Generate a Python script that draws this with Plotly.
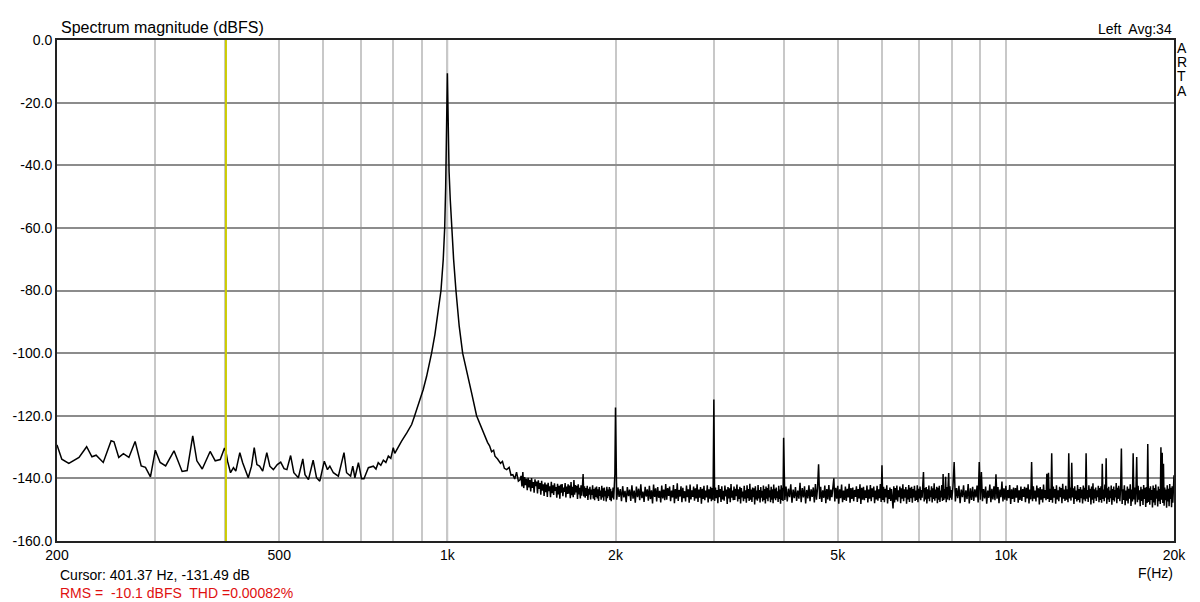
import plotly.graph_objects as go

# ---- data (Hz, dBFS) ----
low_hz = [200, 204, 210, 219, 226, 231, 235, 242, 250, 253,
          258, 263, 269, 276, 283, 288, 294, 300, 306, 313,
          324, 335, 342, 350, 356, 364, 376, 384, 392, 399,
          401.4, 404, 409, 414, 418, 425, 430, 434, 440, 446,
          451, 456, 461, 467, 475, 481, 488, 496, 503, 510,
          516, 524, 531, 541, 551, 556, 564, 575, 583, 591,
          602, 610, 616, 625, 638, 653, 660, 671, 677, 683,
          693, 702, 709, 722, 737, 745, 752, 760, 768, 776,
          784, 792, 800, 805, 809, 818, 828, 846, 863]
low_db = [-129.3, -133.9, -135.2, -133.3, -129.9, -133.1, -132.6, -134.9, -128.0, -128.3,
          -133.3, -132.1, -133.3, -128.2, -136.0, -136.5, -139.5, -131.0, -134.9, -136.0,
          -131.2, -137.8, -137.5, -126.4, -134.4, -137.0, -131.4, -134.4, -134.0, -130.3,
          -131.5, -134.5, -138.2, -136.6, -137.7, -131.8, -135.0, -137.2, -139.8, -136.1,
          -130.2, -135.6, -136.1, -137.7, -131.8, -136.1, -137.2, -135.6, -134.8, -136.9,
          -137.2, -132.7, -138.2, -139.8, -133.8, -138.8, -140.4, -134.2, -139.8, -140.9,
          -134.5, -137.2, -136.1, -138.2, -139.3, -131.8, -138.2, -139.3, -136.1, -139.8,
          -135.0, -140.1, -140.1, -136.6, -136.1, -137.0, -135.0, -135.8, -134.2, -134.9,
          -132.9, -133.6, -130.2, -132.0, -131.3, -129.8, -128.1, -125.5, -122.8]

# fundamental at 1 kHz and its skirt
peak_hz = [872, 883, 893, 905, 918, 928, 937, 950, 963, 974,
           983, 989, 993, 996, 998, 1000, 1002, 1004, 1007, 1012,
           1018, 1026, 1036, 1050, 1065, 1085, 1105, 1128, 1148, 1168,
           1180, 1190, 1200, 1210, 1217, 1230, 1245, 1255, 1265, 1277,
           1290, 1300, 1310, 1320, 1330, 1340]
peak_db = [-120.5, -117.7, -115.4, -111.7, -107.4, -103.7, -100.0, -94.0, -87.2, -80.0,
           -70.2, -60.0, -47.0, -32.0, -20.0, -10.6, -20.0, -32.0, -42.0, -51.0,
           -60.0, -70.0, -80.0, -91.4, -100.0, -107.0, -112.7, -120.0, -123.5, -126.5,
           -128.5, -129.6, -131.5, -131.0, -132.9, -133.8, -135.2, -134.6, -136.8, -137.2,
           -136.5, -139.0, -138.8, -140.2, -138.0, -140.9]

# noise floor with harmonics, 1.35 kHz .. 2 kHz
noise_a_hz = [1350, 1355, 1360, 1365, 1370, 1375, 1380, 1385, 1390, 1395,
              1400, 1405, 1410, 1415, 1420, 1425, 1430, 1435, 1440, 1445,
              1450, 1455, 1460, 1465, 1470, 1475, 1480, 1485, 1490, 1495,
              1500, 1505, 1510, 1515, 1520, 1525, 1530, 1535, 1540, 1545,
              1550, 1555, 1560, 1565, 1570, 1575, 1580, 1585, 1590, 1595,
              1600, 1605, 1610, 1615, 1620, 1625, 1630, 1635, 1640, 1645,
              1650, 1655, 1660, 1665, 1670, 1675, 1680, 1685, 1690, 1695,
              1700, 1705, 1710, 1715, 1720, 1725, 1730, 1735, 1740, 1745,
              1750, 1755, 1760, 1765, 1770, 1775, 1780, 1785, 1790, 1795,
              1800, 1805, 1810, 1815, 1820, 1825, 1830, 1835, 1840, 1845,
              1850, 1855, 1860, 1865, 1870, 1875, 1880, 1885, 1890, 1895,
              1900, 1905, 1910, 1915, 1920, 1925, 1930, 1935, 1940, 1945,
              1950, 1955, 1960, 1965, 1970, 1975, 1980, 1985, 1990, 1995]
noise_a_db = [-140.4, -139.2, -142.6, -138.0, -143.1, -139.6, -142.2, -140.1, -143.8, -139.8,
              -142.9, -140.5, -144.2, -139.9, -143.0, -141.2, -144.6, -140.3, -142.5, -141.0,
              -144.8, -140.6, -143.4, -141.5, -145.2, -140.8, -143.9, -141.9, -145.6, -141.3,
              -144.4, -142.0, -145.9, -141.4, -144.1, -142.5, -146.0, -141.1, -144.7, -142.2,
              -145.3, -141.6, -144.0, -142.8, -146.2, -141.7, -145.1, -142.4, -146.5, -142.0,
              -144.6, -141.8, -145.7, -142.9, -144.3, -141.5, -146.1, -142.6, -145.0, -141.9,
              -144.9, -142.3, -146.3, -141.2, -145.4, -142.7, -146.0, -140.5, -145.2, -142.1,
              -144.5, -142.4, -146.6, -141.9, -145.1, -143.0, -146.4, -142.2, -145.5, -142.8,
              -138.6, -145.8, -142.5, -146.2, -143.1, -145.6, -142.4, -146.9, -143.3, -145.2,
              -142.7, -146.7, -143.6, -145.3, -142.2, -146.5, -143.4, -147.0, -142.9, -145.9,
              -142.6, -146.4, -143.5, -147.2, -142.8, -145.6, -143.9, -146.8, -142.4, -146.1,
              -143.2, -147.1, -142.9, -145.8, -144.0, -147.4, -142.7, -146.3, -143.6, -145.7,
              -142.8, -146.9, -143.3, -147.3, -144.1, -146.2, -142.9, -146.7, -143.5, -138.5]

# 2 kHz .. 4 kHz
noise_b_hz = [2000, 2010, 2020, 2030, 2040, 2050, 2060, 2070, 2080, 2090,
              2100, 2110, 2120, 2130, 2140, 2150, 2160, 2170, 2180, 2190,
              2200, 2210, 2220, 2230, 2240, 2250, 2260, 2270, 2280, 2290,
              2300, 2310, 2320, 2330, 2340, 2350, 2360, 2370, 2380, 2390,
              2400, 2410, 2420, 2430, 2440, 2450, 2460, 2470, 2480, 2490,
              2500, 2510, 2520, 2530, 2540, 2550, 2560, 2570, 2580, 2590,
              2600, 2610, 2620, 2630, 2640, 2650, 2660, 2670, 2680, 2690,
              2700, 2710, 2720, 2730, 2740, 2750, 2760, 2770, 2780, 2790,
              2800, 2810, 2820, 2830, 2840, 2850, 2860, 2870, 2880, 2890,
              2900, 2910, 2920, 2930, 2940, 2950, 2960, 2970, 2980, 2990,
              3000, 3010, 3020, 3030, 3040, 3050, 3060, 3070, 3080, 3090,
              3100, 3110, 3120, 3130, 3140, 3150, 3160, 3170, 3180, 3190,
              3200, 3210, 3220, 3230, 3240, 3250, 3260, 3270, 3280, 3290,
              3300, 3310, 3320, 3330, 3340, 3350, 3360, 3370, 3380, 3390,
              3400, 3410, 3420, 3430, 3440, 3450, 3460, 3470, 3480, 3490,
              3500, 3510, 3520, 3530, 3540, 3550, 3560, 3570, 3580, 3590,
              3600, 3610, 3620, 3630, 3640, 3650, 3660, 3670, 3680, 3690,
              3700, 3710, 3720, 3730, 3740, 3750, 3760, 3770, 3780, 3790,
              3800, 3810, 3820, 3830, 3840, 3850, 3860, 3870, 3880, 3890,
              3900, 3910, 3920, 3930, 3940, 3950, 3960, 3970, 3980, 3990]
noise_b_db = [-117.4, -146.8, -142.9, -145.9, -143.4, -147.3, -142.5, -146.1, -144.0, -147.6,
              -142.8, -145.7, -143.6, -147.2, -142.2, -146.5, -143.9, -147.8, -142.6, -146.0,
              -143.3, -147.0, -141.9, -146.3, -144.2, -147.5, -142.7, -145.8, -143.5, -147.1,
              -142.4, -146.6, -143.8, -148.0, -142.0, -145.9, -143.2, -147.4, -142.8, -146.2,
              -144.0, -147.7, -142.3, -146.4, -143.6, -147.0, -141.8, -146.8, -143.1, -145.6,
              -142.6, -147.3, -143.9, -146.1, -142.1, -147.9, -143.4, -146.5, -141.6, -147.2,
              -143.7, -145.8, -142.5, -147.6, -143.0, -146.3, -144.1, -147.4, -142.3, -146.0,
              -143.5, -147.8, -142.0, -146.7, -143.8, -145.9, -142.6, -147.1, -143.2, -146.4,
              -141.9, -147.5, -143.6, -146.2, -142.8, -148.1, -143.3, -146.6, -142.4, -147.0,
              -143.9, -146.1, -142.2, -147.7, -143.5, -146.5, -142.7, -147.3, -143.1, -146.8,
              -114.8, -147.2, -142.9, -146.3, -143.7, -147.9, -142.1, -146.0, -143.4, -147.5,
              -142.5, -146.7, -144.0, -147.1, -142.3, -145.8, -143.6, -148.2, -142.8, -146.4,
              -143.2, -147.6, -141.8, -146.2, -143.9, -147.0, -142.6, -146.9, -143.3, -145.7,
              -142.0, -147.4, -143.5, -146.6, -142.7, -148.0, -143.1, -146.1, -144.2, -147.3,
              -142.4, -146.5, -143.8, -147.8, -142.2, -146.3, -143.4, -147.2, -141.7, -146.8,
              -143.6, -147.5, -142.9, -146.0, -143.2, -148.3, -142.5, -146.7, -143.9, -147.1,
              -142.1, -146.4, -143.7, -147.7, -142.8, -146.2, -144.0, -147.4, -142.3, -146.9,
              -143.4, -148.0, -142.6, -146.5, -143.1, -147.3, -141.9, -146.1, -143.8, -147.6,
              -142.7, -146.8, -143.5, -147.9, -142.0, -146.4, -143.3, -147.0, -142.9, -146.3,
              -144.1, -147.5, -142.4, -146.6, -143.6, -148.1, -142.2, -146.9, -143.0, -147.2]

# 4 kHz .. 8 kHz
noise_c_hz = [4000, 4020, 4040, 4060, 4080, 4100, 4120, 4140, 4160, 4180,
              4200, 4220, 4240, 4260, 4280, 4300, 4320, 4340, 4360, 4380,
              4400, 4420, 4440, 4460, 4480, 4500, 4520, 4540, 4560, 4580,
              4600, 4620, 4640, 4660, 4680, 4700, 4720, 4740, 4760, 4780,
              4800, 4820, 4840, 4860, 4880, 4900, 4920, 4940, 4960, 4980,
              5000, 5020, 5040, 5060, 5080, 5100, 5120, 5140, 5160, 5180,
              5200, 5220, 5240, 5260, 5280, 5300, 5320, 5340, 5360, 5380,
              5400, 5420, 5440, 5460, 5480, 5500, 5520, 5540, 5560, 5580,
              5600, 5620, 5640, 5660, 5680, 5700, 5720, 5740, 5760, 5780,
              5800, 5820, 5840, 5860, 5880, 5900, 5920, 5940, 5960, 5980,
              6000, 6020, 6040, 6060, 6080, 6100, 6120, 6140, 6160, 6180,
              6200, 6220, 6240, 6260, 6280, 6300, 6320, 6340, 6360, 6380,
              6400, 6420, 6440, 6460, 6480, 6500, 6520, 6540, 6560, 6580,
              6600, 6620, 6640, 6660, 6680, 6700, 6720, 6740, 6760, 6780,
              6800, 6820, 6840, 6860, 6880, 6900, 6920, 6940, 6960, 6980,
              7000, 7020, 7040, 7060, 7080, 7100, 7120, 7140, 7160, 7180,
              7200, 7220, 7240, 7260, 7280, 7300, 7320, 7340, 7360, 7380,
              7400, 7420, 7440, 7460, 7480, 7500, 7520, 7540, 7560, 7580,
              7600, 7620, 7640, 7660, 7680, 7700, 7720, 7740, 7760, 7780,
              7800, 7820, 7840, 7860, 7880, 7900, 7920, 7940, 7960, 7980]
noise_c_db = [-127.0, -146.9, -142.6, -147.4, -143.3, -146.0, -141.9, -147.8, -143.6, -146.3,
              -142.8, -147.2, -143.9, -146.5, -141.4, -147.6, -143.1, -146.1, -142.5, -148.0,
              -143.7, -146.4, -142.2, -147.3, -143.5, -145.9, -142.9, -147.7, -141.8, -146.8,
              -143.2, -135.5, -146.6, -142.7, -147.5, -143.8, -146.2, -142.3, -147.9, -143.4,
              -146.7, -142.1, -147.1, -143.6, -146.0, -142.8, -140.0, -147.4, -143.0, -146.5,
              -142.4, -148.1, -143.5, -146.3, -142.0, -147.6, -143.9, -146.9, -142.6, -147.2,
              -143.3, -146.1, -141.7, -147.8, -143.1, -146.6, -142.9, -147.3, -143.7, -145.9,
              -142.5, -147.5, -143.4, -146.4, -141.9, -148.2, -143.0, -146.8, -142.7, -147.0,
              -143.8, -146.2, -142.3, -147.7, -143.6, -146.5, -142.1, -147.3, -143.2, -146.0,
              -142.6, -147.9, -143.9, -146.7, -142.4, -147.1, -143.5, -146.3, -141.8, -147.5,
              -135.8, -146.9, -142.7, -147.6, -143.3, -146.1, -142.2, -148.0, -143.7, -146.6,
              -142.9, -147.2, -143.4, -146.4, -149.6, -142.5, -147.7, -143.1, -146.8, -142.3,
              -147.4, -143.8, -146.0, -142.6, -147.9, -143.2, -146.5, -141.9, -147.3, -143.5,
              -146.2, -142.8, -148.1, -143.6, -146.7, -142.1, -147.5, -143.0, -146.3, -142.7,
              -147.8, -143.4, -146.1, -142.4, -147.2, -143.9, -146.9, -142.2, -147.6, -143.3,
              -146.4, -142.6, -147.0, -143.7, -146.2, -142.0, -138.0, -147.4, -143.1, -146.7,
              -142.8, -148.0, -143.5, -146.5, -142.3, -147.3, -143.8, -146.0, -142.5, -147.7,
              -143.2, -146.6, -141.6, -147.1, -143.6, -146.3, -142.7, -147.9, -143.0, -146.8,
              -142.4, -147.5, -143.9, -146.1, -142.1, -147.2, -138.6, -146.9, -143.4, -146.4,
              -139.5, -147.6, -142.8, -146.7, -143.3, -138.3, -147.0, -142.5, -146.2, -143.7]

# 8 kHz .. 16 kHz
noise_d_hz = [8000, 8040, 8080, 8120, 8160, 8200, 8240, 8280, 8320, 8360,
              8400, 8440, 8480, 8520, 8560, 8600, 8640, 8680, 8720, 8760,
              8800, 8840, 8880, 8920, 8960, 9000, 9040, 9080, 9120, 9160,
              9200, 9240, 9280, 9320, 9360, 9400, 9440, 9480, 9520, 9560,
              9600, 9640, 9680, 9720, 9760, 9800, 9840, 9880, 9920, 9960,
              10000, 10040, 10080, 10120, 10160, 10200, 10240, 10280, 10320, 10360,
              10400, 10440, 10480, 10520, 10560, 10600, 10640, 10680, 10720, 10760,
              10800, 10840, 10880, 10920, 10960, 11000, 11040, 11080, 11120, 11160,
              11200, 11240, 11280, 11320, 11360, 11400, 11440, 11480, 11520, 11560,
              11600, 11640, 11680, 11720, 11760, 11800, 11840, 11880, 11920, 11960,
              12000, 12040, 12080, 12120, 12160, 12200, 12240, 12280, 12320, 12360,
              12400, 12440, 12480, 12520, 12560, 12600, 12640, 12680, 12720, 12760,
              12800, 12840, 12880, 12920, 12960, 13000, 13040, 13080, 13120, 13160,
              13200, 13240, 13280, 13320, 13360, 13400, 13440, 13480, 13520, 13560,
              13600, 13640, 13680, 13720, 13760, 13800, 13840, 13880, 13920, 13960,
              14000, 14040, 14080, 14120, 14160, 14200, 14240, 14280, 14320, 14360,
              14400, 14440, 14480, 14520, 14560, 14600, 14640, 14680, 14720, 14760,
              14800, 14840, 14880, 14920, 14960, 15000, 15040, 15080, 15120, 15160,
              15200, 15240, 15280, 15320, 15360, 15400, 15440, 15480, 15520, 15560,
              15600, 15640, 15680, 15720, 15760, 15800, 15840, 15880, 15920, 15960]
noise_d_db = [-146.8, -142.6, -134.8, -147.4, -143.1, -146.3, -142.4, -147.9, -143.6, -146.0,
              -142.2, -147.5, -143.8, -146.6, -141.8, -148.0, -143.2, -146.9, -142.7, -147.2,
              -143.5, -146.1, -142.3, -147.7, -134.8, -146.8, -138.0, -147.3, -143.4, -146.4,
              -142.6, -148.1, -143.9, -146.2, -142.0, -147.6, -143.3, -146.7, -142.5, -147.0,
              -138.7, -146.5, -142.8, -147.9, -143.6, -146.0, -141.0, -147.4, -143.2, -146.8,
              -142.4, -147.1, -143.7, -146.3, -142.1, -148.2, -143.5, -146.6, -142.9, -147.5,
              -143.1, -146.2, -142.2, -147.8, -143.8, -146.9, -142.6, -147.2, -143.4, -145.9,
              -142.7, -147.6, -143.0, -146.4, -141.9, -148.0, -143.6, -146.7, -134.8, -147.3,
              -142.5, -146.5, -143.9, -147.4, -142.3, -146.1, -143.2, -148.3, -142.8, -146.8,
              -143.5, -147.7, -142.0, -146.3, -143.7, -147.0, -138.5, -146.6, -138.2, -147.5,
              -143.3, -146.9, -132.0, -147.8, -142.6, -146.2, -143.4, -148.1, -142.2, -146.7,
              -143.8, -147.3, -142.7, -146.0, -143.1, -147.9, -141.7, -146.5, -143.6, -147.2,
              -142.4, -146.8, -143.5, -147.6, -132.0, -146.4, -142.9, -147.1, -135.0, -146.1,
              -143.2, -148.2, -142.5, -146.6, -143.9, -147.4, -142.1, -146.9, -143.4, -147.7,
              -142.8, -146.3, -143.6, -148.0, -142.3, -146.7, -143.0, -147.3, -132.0, -146.5,
              -143.7, -147.5, -142.2, -146.1, -143.3, -148.3, -142.6, -146.8, -141.6, -147.9,
              -143.5, -146.4, -142.9, -147.2, -143.8, -146.0, -142.4, -147.6, -143.1, -146.9,
              -142.5, -147.8, -135.3, -146.6, -143.6, -147.3, -142.0, -146.2, -133.6, -148.1,
              -143.2, -146.7, -142.7, -147.5, -143.9, -146.3, -142.3, -148.4, -143.4, -146.9,
              -142.6, -147.4, -143.7, -146.1, -141.5, -147.9, -143.0, -146.6, -142.4, -147.2]

# 16 kHz .. 20 kHz
noise_e_hz = [16000, 16050, 16100, 16150, 16200, 16250, 16300, 16350, 16400, 16450,
              16500, 16550, 16600, 16650, 16700, 16750, 16800, 16850, 16900, 16950,
              17000, 17050, 17100, 17150, 17200, 17250, 17300, 17350, 17400, 17450,
              17500, 17550, 17600, 17650, 17700, 17750, 17800, 17850, 17900, 17950,
              18000, 18050, 18100, 18150, 18200, 18250, 18300, 18350, 18400, 18450,
              18500, 18550, 18600, 18650, 18700, 18750, 18800, 18850, 18900, 18950,
              19000, 19050, 19100, 19150, 19200, 19250, 19300, 19350, 19400, 19450,
              19500, 19550, 19600, 19650, 19700, 19750, 19800, 19850, 19900, 19950,
              20000]
noise_e_db = [-147.3, -142.8, -130.5, -148.2, -143.5, -146.9, -142.2, -148.6, -143.9, -147.1,
              -142.6, -148.0, -143.3, -146.5, -141.9, -148.8, -143.6, -147.4, -132.0, -146.7,
              -142.9, -148.3, -143.4, -133.2, -147.6, -142.4, -146.8, -143.8, -148.9, -142.7,
              -147.2, -143.5, -148.5, -142.1, -146.6, -143.0, -149.1, -142.8, -147.9, -129.0,
              -147.5, -143.2, -148.4, -142.5, -146.9, -143.7, -149.3, -142.3, -147.7, -143.1,
              -148.6, -142.0, -146.5, -143.9, -149.0, -142.6, -147.3, -143.4, -148.2, -130.1,
              -146.8, -131.8, -147.9, -135.3, -148.7, -142.9, -147.0, -143.6, -149.4, -142.2,
              -147.4, -143.3, -148.9, -141.8, -146.6, -143.0, -149.2, -142.5, -147.8, -143.6,
              -139.0]

x_tick_vals = [200, 500, 1000, 2000, 5000, 10000, 20000]
x_tick_text = ["200", "500", "1k", "2k", "5k", "10k", "20k"]
x_minor_vals = [300, 400, 600, 700, 800, 900,
                3000, 4000, 6000, 7000, 8000, 9000]
decade_lines = [1000, 10000]
y_tick_vals = [0, -20, -40, -60, -80, -100, -120, -140, -160]
y_tick_text = ["0.0", "-20.0", "-40.0", "-60.0", "-80.0", "-100.0", "-120.0", "-140.0", "-160.0"]

cursor_hz = 401.37
cursor_text = "Cursor: 401.37 Hz, -131.49 dB"
rms_text = "RMS =\u00a0 -10.1 dBFS\u00a0 THD =0.00082%"

freq = low_hz + peak_hz + noise_a_hz + noise_b_hz + noise_c_hz + noise_d_hz + noise_e_hz
mag = low_db + peak_db + noise_a_db + noise_b_db + noise_c_db + noise_d_db + noise_e_db

FONT = "Liberation Sans, Arial, sans-serif"
GRID_LIGHT = "#c8c8c8"
GRID_DARK = "#8c8c8c"

fig = go.Figure()
fig.add_trace(go.Scatter(x=freq, y=mag, mode="lines",
                         line=dict(color="black", width=1.5),
                         hoverinfo="skip"))

# darker lines at decades
for f in decade_lines:
    fig.add_shape(type="line", xref="x", yref="paper", x0=f, x1=f, y0=0, y1=1,
                  line=dict(color=GRID_DARK, width=1.5), layer="below")

# cursor
fig.add_shape(type="line", xref="x", yref="paper", x0=cursor_hz, x1=cursor_hz, y0=0, y1=1,
              line=dict(color="#cccc00", width=2), layer="above")

fig.update_layout(
    width=1200, height=602,
    margin=dict(l=57, r=26, t=40, b=61),
    plot_bgcolor="white", paper_bgcolor="white",
    showlegend=False,
    font=dict(family=FONT, size=14, color="black"),
    xaxis=dict(type="log", range=[2.30103, 4.30103],
               tickvals=x_tick_vals, ticktext=x_tick_text,
               showgrid=True, gridcolor=GRID_LIGHT, gridwidth=1.5,
               minor=dict(tickvals=x_minor_vals, showgrid=True,
                          gridcolor=GRID_LIGHT, gridwidth=1.5, ticks=""),
               showline=True, mirror=True, linecolor="#222222", linewidth=2,
               ticks="", zeroline=False, tickfont=dict(size=14)),
    yaxis=dict(range=[-160, 0], tickvals=y_tick_vals, ticktext=y_tick_text,
               showgrid=True, gridcolor=GRID_DARK, gridwidth=1.5,
               showline=True, mirror=True, linecolor="#222222", linewidth=2,
               ticks="", zeroline=False, tickfont=dict(size=14)),
)

ann = [
    dict(text="Spectrum magnitude (dBFS)", x=0.002, y=1.025, xanchor="left", font=dict(size=16)),
    dict(text="Left\u00a0 Avg:34", x=1.0, y=1.022, xanchor="right"),
    dict(text="A", x=1.0069, y=0.984, xanchor="center"),
    dict(text="R", x=1.0069, y=0.956, xanchor="center"),
    dict(text="T", x=1.0069, y=0.929, xanchor="center"),
    dict(text="A", x=1.0069, y=0.898, xanchor="center"),
    dict(text="F(Hz)", x=1.001, y=-0.064, xanchor="right"),
    dict(text=cursor_text, x=0.001, y=-0.067, xanchor="left"),
    dict(text=rms_text, x=0.001, y=-0.103, xanchor="left", font=dict(size=14, color="#e01010")),
]
for a in ann:
    fig.add_annotation(xref="paper", yref="paper", yanchor="middle",
                       showarrow=False, font=a.pop("font", dict(size=14)), **a)

fig.write_html("out.html", config={"displayModeBar": False},
               post_script="document.body.style.margin='0px';")
